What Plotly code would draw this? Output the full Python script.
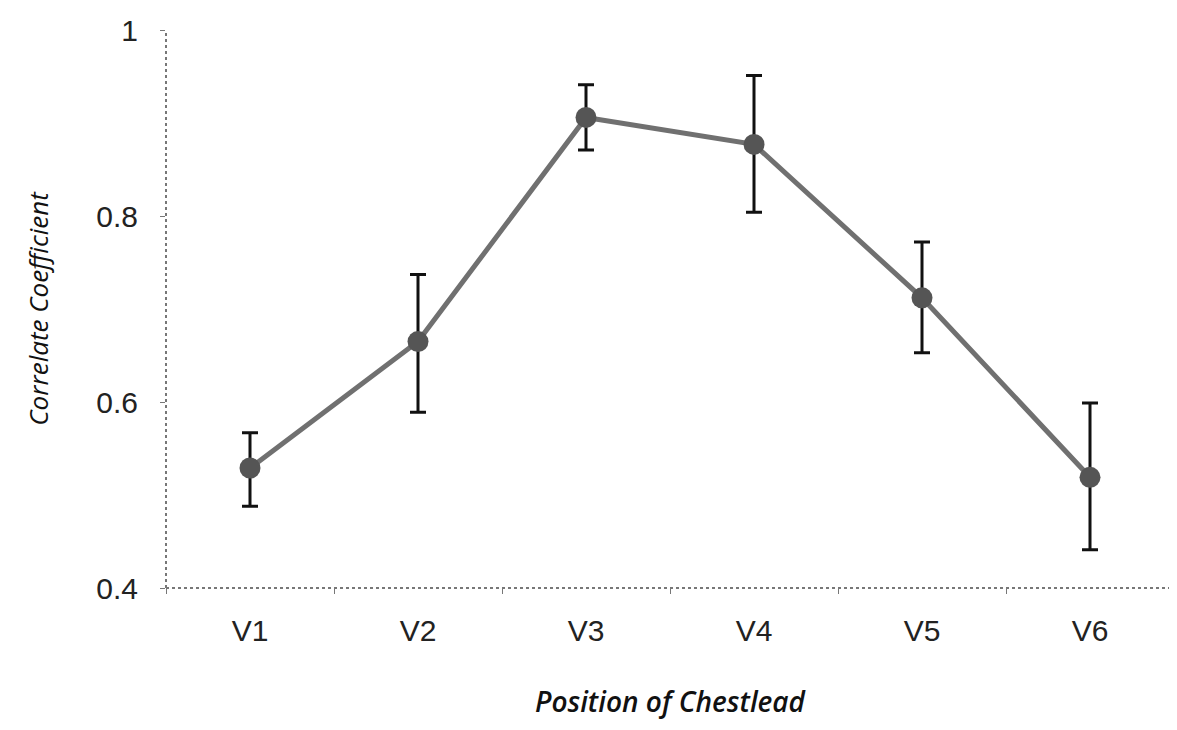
import plotly.graph_objects as go

categories = ["V1", "V2", "V3", "V4", "V5", "V6"]
values = [0.529, 0.665, 0.906, 0.877, 0.712, 0.519]
err_plus = [0.038, 0.072, 0.035, 0.074, 0.060, 0.080]
err_minus = [0.041, 0.076, 0.035, 0.073, 0.059, 0.078]
y_ticks = [0.4, 0.6, 0.8, 1.0]
y_tick_labels = ["0.4", "0.6", "0.8", "1"]

fig = go.Figure()
fig.add_trace(go.Scatter(
    x=categories, y=values,
    mode="lines+markers",
    line=dict(color="#707070", width=5),
    marker=dict(color="#555555", size=21),
    error_y=dict(type="data", symmetric=False, array=err_plus, arrayminus=err_minus,
                 color="#111111", thickness=3, width=8),
    showlegend=False,
))

axis_font = dict(family="Liberation Sans, Arial, sans-serif", size=30, color="#222222")

fig.update_layout(
    width=1177, height=730,
    margin=dict(l=158, r=11, t=22, b=150),
    plot_bgcolor="white", paper_bgcolor="white",
    xaxis=dict(
        range=[-0.5, 5.5], tickson="boundaries", ticks="outside", ticklen=5,
        tickcolor="#777777", showgrid=False, zeroline=False, showline=False,
        tickfont=axis_font, ticklabelstandoff=22, automargin=False,
        title=dict(text="<i>Position of Chestlead</i>", standoff=46,
                   font=dict(family="Open Sans, sans-serif", size=28, weight=600, color="#111111")),
    ),
    yaxis=dict(
        range=[0.4, 1.0], tickvals=y_ticks, ticktext=y_tick_labels,
        ticks="outside", ticklen=5, tickcolor="#777777",
        showgrid=False, zeroline=False, showline=False, tickfont=axis_font,
        ticklabelstandoff=16, automargin=False, ticklabeloverflow="allow",
        title=dict(text="<i>Correlate Coefficient</i>", standoff=40,
                   font=dict(family="Open Sans, sans-serif", size=26, color="#111111")),
    ),
)

fig.add_shape(type="line", xref="x domain", yref="y domain", x0=0, x1=1, y0=0, y1=0,
              line=dict(color="#777777", width=2, dash="dot"))
fig.add_shape(type="line", xref="x domain", yref="y domain", x0=0, x1=0, y0=0, y1=1,
              line=dict(color="#777777", width=2, dash="dot"))

fig.write_html("out.html")
